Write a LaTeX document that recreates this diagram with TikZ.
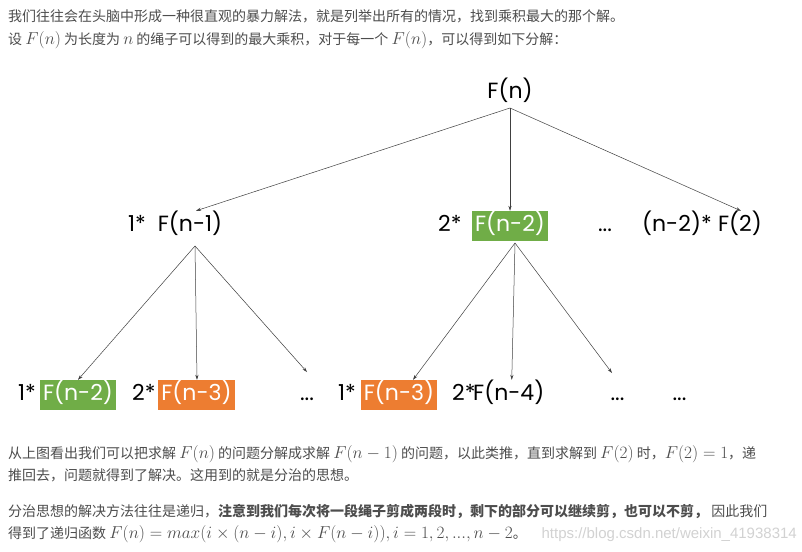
\documentclass[tikz,border=0pt]{standalone}
\usepackage[no-math]{fontspec}
\setmainfont{Noto Sans CJK SC}
\newfontfamily\dfont{Poppins}
\newfontfamily\wmfont{Liberation Sans}
\usetikzlibrary{arrows.meta}
\definecolor{boxgreen}{HTML}{70AD47}
\definecolor{boxorange}{HTML}{ED7D31}
\definecolor{txtgray}{HTML}{4D4D4D}
\definecolor{arrgray}{HTML}{404040}
\newcommand{\mth}[1]{{\fontsize{17}{20}\selectfont$#1$}}
\tikzset{
  txt/.style={anchor=base west, inner sep=0pt, text=txtgray, font=\fontsize{14}{16}\selectfont},
  lbl/.style={inner xsep=0pt, inner ysep=4pt, text height=16pt, text depth=6pt, font=\dfont\fontsize{22}{24}\selectfont, text=black},
  gbox/.style={lbl, fill=boxgreen, text=white, minimum width=76pt},
  obox/.style={lbl, fill=boxorange, text=white, minimum width=77pt},
  arr/.style={draw=arrgray, line width=0.5pt, -{Stealth[length=5pt,width=3.2pt]}}
}
\begin{document}
\begin{tikzpicture}[x=1pt,y=-1pt]
\useasboundingbox[fill=white] (0,0) rectangle (802,551);

% top text
\node[txt] (t1) at (8,22) {我们往往会在头脑中形成一种很直观的暴力解法，就是列举出所有的情况，找到乘积最大的那个解。};
\node[txt] (t2) at (8,45) {设 \mth{F(n)} 为长度为 \mth{n} 的绳子可以得到的最大乘积，对于每一个 \mth{F(n)}，可以得到如下分解：};

% root
\node[lbl, anchor=base] (root) at (510,98) {F(n)};
\coordinate (rs) at (510,108);

% level 1
\node[lbl, anchor=base west] (m11) at (128,231) {1*};
\node[lbl, anchor=base] (f11) at (190,231) {F(n-1)};
\node[lbl, anchor=base west] (m12) at (438,231) {2*};
\node[gbox, anchor=base] (f12) at (510,231) {F(n-2)};
\node[lbl, anchor=base] (d1) at (605,231) {...};
\node[lbl, anchor=base east] (f13) at (762,231) {F(2)};
\node[lbl, anchor=base east] (m13) at ([xshift=-6pt]f13.base west) {(n-2)*};

\draw[arr] (rs) -- ([xshift=6pt]f11.north);
\draw[arr] (rs) -- (f12.north);
\draw[arr] (rs) -- ([xshift=1pt]f13.north);

% level 2
\node[lbl, anchor=base west] (m21) at (18,400) {1*};
\node[gbox, anchor=base] (f21) at (78,400) {F(n-2)};
\node[lbl, anchor=base west] (m22) at (132,400) {2*};
\node[obox, anchor=base] (f22) at (196.5,400) {F(n-3)};
\node[lbl, anchor=base] (d21) at (307,400) {...};
\coordinate (d21t) at (307,372);
\node[lbl, anchor=base west] (m23) at (338,400) {1*};
\node[obox, anchor=base, minimum width=76pt] (f23) at (399,400) {F(n-3)};
\node[lbl, anchor=base west] (m24) at (452,400) {2*};
\node[lbl, anchor=base west] (f24) at (473,400) {F(n-4)};
\node[lbl, anchor=base] (d22) at (617.5,400) {...};
\coordinate (d22t) at (612,373);
\node[lbl, anchor=base] (d23) at (679.5,400) {...};

\coordinate (s1) at (195,246);
\coordinate (s2) at (515,243);
\draw[arr] (s1) -- (f21.north);
\draw[arr] (s1) -- ([xshift=0.5pt]f22.north);
\draw[arr] (s1) -- (d21t);
\draw[arr] (s2) -- ([xshift=14pt]f23.north);
\draw[arr] (s2) -- ([xshift=3pt]f24.north);
\draw[arr] (s2) -- (d22t);

% bottom text
\node[txt] (t3) at (8,458) {从上图看出我们可以把求解 \mth{F(n)} 的问题分解成求解 \mth{F(n-1)} 的问题，以此类推，直到求解到 \mth{F(2)} 时，\mth{F(2)=1}，递};
\node[txt] (t4) at (8,480) {推回去，问题就得到了解决。这用到的就是分治的思想。};
\node[txt] (t5) at (8,516) {分治思想的解决方法往往是递归，\textbf{注意到我们每次将一段绳子剪成两段时，剩下的部分可以继续剪，也可以不剪，} 因此我们};
\node[txt] (t6) at (8,538) {得到了递归函数 \mth{F(n)=max(i\times(n-i),i\times F(n-i)),i=1,2,...,n-2}。};
\node[anchor=base east, inner sep=0pt, text=gray!35, font=\wmfont\fontsize{15}{17}\selectfont] (wm) at (797,538) {https://blog.csdn.net/weixin\_41938314};
\end{tikzpicture}
\end{document}
